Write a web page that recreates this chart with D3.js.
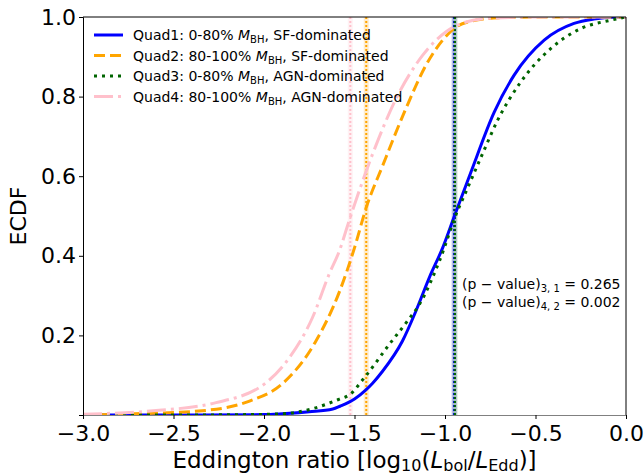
<!DOCTYPE html>
<html>
<head>
<meta charset="utf-8">
<script src="https://cdn.jsdelivr.net/npm/d3@7"></script>
<style>
  body { margin: 0; background: #fff; }
  text { font-family: "DejaVu Sans", sans-serif; }
</style>
</head>
<body>
<script>
// ECDF values

var q1X = [-3.0, -2.5, -2.0, -1.9, -1.75, -1.62, -1.58, -1.50, -1.44, -1.40, -1.345, -1.235, -1.16, -1.086, -1.013, -0.948, -0.857, -0.728, -0.618, -0.452, -0.287, -0.177, -0.04, 0.0];
var q1Y = [0, 0, 0.001, 0.003, 0.008, 0.015, 0.022, 0.04, 0.062, 0.08, 0.11, 0.186, 0.262, 0.346, 0.42, 0.50, 0.61, 0.761, 0.854, 0.942, 0.984, 0.995, 1.0, 1.0];

var q2X = [-3.0, -2.72, -2.36, -2.08, -1.9, -1.713, -1.583, -1.50, -1.436, -1.344, -1.215, -1.105, -1.013, -0.948, -0.85, -0.7, -0.5, 0.0];
var q2Y = [0, 0.003, 0.01, 0.035, 0.078, 0.186, 0.31, 0.42, 0.52, 0.627, 0.771, 0.879, 0.942, 0.972, 0.99, 0.998, 1.0, 1.0];

var q3X = [-3.0, -2.5, -2.1, -1.9, -1.715, -1.583, -1.53, -1.445, -1.307, -1.206, -1.14, -1.03, -0.93, -0.893, -0.792, -0.71, -0.581, -0.415, -0.25, -0.084, 0.0];
var q3Y = [0, 0, 0.001, 0.003, 0.018, 0.04, 0.05, 0.094, 0.178, 0.237, 0.279, 0.388, 0.514, 0.552, 0.657, 0.74, 0.837, 0.921, 0.971, 0.992, 1.0];

var q4X = [-3.0, -2.63, -2.265, -1.989, -1.86, -1.732, -1.64, -1.583, -1.529, -1.399, -1.27, -1.123, -0.994, -0.9, -0.75, -0.5, 0.0];
var q4Y = [0.002, 0.01, 0.031, 0.081, 0.144, 0.245, 0.354, 0.413, 0.489, 0.657, 0.795, 0.904, 0.963, 0.985, 0.997, 1.0, 1.0];

// medians drawn as vertical lines
var medians = [-0.950, -1.435, -0.945, -1.523];

var labels = ["Quad1: 0-80% ", "Quad2: 80-100% ", "Quad3: 0-80% ", "Quad4: 80-100% "];
var labelEnds = [", SF-dominated", ", SF-dominated", ", AGN-dominated", ", AGN-dominated"];
var pvalues = [["3, 1", "0.265"], ["4, 2", "0.002"]];

var xTicks = [-3.0, -2.5, -2.0, -1.5, -1.0, -0.5, 0.0];
var yTicks = [0.2, 0.4, 0.6, 0.8, 1.0];

var colors = ["blue", "orange", "darkgreen", "pink"];
var dashes = [null, "11,5", "3,5", "19,5,3,5"];

var width = 644, height = 475;
var margin = {left: 83, top: 17, right: 18, bottom: 60};

var svg = d3.select("body").append("svg")
    .attr("width", width)
    .attr("height", height);

var x = d3.scaleLinear().domain([-3, 0]).range([margin.left, width - margin.right]);
var y = d3.scaleLinear().domain([0, 1]).range([height - margin.bottom, margin.top]);

var series = [
    {xs: q1X, ys: q1Y},
    {xs: q2X, ys: q2Y},
    {xs: q3X, ys: q3Y},
    {xs: q4X, ys: q4Y}
];

svg.append("clipPath").attr("id", "clip")
  .append("rect")
    .attr("x", margin.left).attr("y", margin.top)
    .attr("width", width - margin.left - margin.right)
    .attr("height", height - margin.top - margin.bottom);

var plot = svg.append("g").attr("clip-path", "url(#clip)");

// vertical median lines: light band + dotted line
var drawOrder = [3, 1, 0, 2];
drawOrder.forEach(function (i) {
    plot.append("line")
        .attr("x1", x(medians[i])).attr("x2", x(medians[i]))
        .attr("y1", y(0)).attr("y2", y(1))
        .style("stroke", colors[i])
        .style("stroke-width", 5)
        .style("opacity", 0.2);
    plot.append("line")
        .attr("x1", x(medians[i])).attr("x2", x(medians[i]))
        .attr("y1", y(0)).attr("y2", y(1))
        .style("stroke", colors[i])
        .style("stroke-width", 2)
        .style("stroke-dasharray", "2,2");
});

var line = d3.line()
    .x(function (d) { return x(d[0]); })
    .y(function (d) { return y(d[1]); })
    .curve(d3.curveMonotoneX);

series.forEach(function (s, i) {
    var pts = s.xs.map(function (v, j) { return [v, s.ys[j]]; });
    plot.append("path")
        .attr("d", line(pts))
        .style("fill", "none")
        .style("stroke", colors[i])
        .style("stroke-width", 3)
        .style("stroke-dasharray", dashes[i]);
});

// axes
var xAxis = svg.append("g")
    .attr("transform", "translate(0," + y(0) + ")")
    .call(d3.axisBottom(x).tickValues(xTicks).tickSizeOuter(0).tickSize(4)
        .tickFormat(function (d) { return d3.format(".1f")(d).replace("-", "\u2212"); }));
xAxis.select(".domain").style("stroke", "#808080");
xAxis.selectAll("text").style("font-size", "22px").attr("dy", "0.85em");

var yAxis = svg.append("g")
    .attr("transform", "translate(" + x(-3) + ",0)")
    .call(d3.axisLeft(y).tickValues(yTicks).tickSizeOuter(0).tickSize(4).tickFormat(d3.format(".1f")));
yAxis.selectAll("text").style("font-size", "22px");

svg.append("line")
    .attr("x1", x(-3)).attr("x2", x(0)).attr("y1", y(1)).attr("y2", y(1))
    .style("stroke", "black");
svg.append("line")
    .attr("x1", x(0)).attr("x2", x(0)).attr("y1", y(1)).attr("y2", y(0))
    .style("stroke", "black");

// axis labels
var xl = svg.append("text")
    .attr("x", (x(-3) + x(0)) / 2)
    .attr("y", 468)
    .attr("text-anchor", "middle")
    .style("font-size", "23px");
xl.append("tspan").text("Eddington ratio [log");
xl.append("tspan").attr("dy", 3).style("font-size", "16px").text("10");
xl.append("tspan").attr("dy", -3).text("(");
xl.append("tspan").style("font-style", "italic").text("L");
xl.append("tspan").attr("dy", 3).style("font-size", "16px").text("bol");
xl.append("tspan").attr("dy", -3).text("/");
xl.append("tspan").style("font-style", "italic").text("L");
xl.append("tspan").attr("dy", 3).style("font-size", "16px").text("Edd");
xl.append("tspan").attr("dy", -3).text(")]");

svg.append("text")
    .attr("transform", "translate(26," + y(0.5) + ") rotate(-90)")
    .attr("text-anchor", "middle")
    .style("font-size", "22px")
    .text("ECDF");

// legend
var legend = svg.append("g");
labels.forEach(function (lab, i) {
    var ly = 35 + i * 20.5;
    legend.append("line")
        .attr("x1", 94).attr("x2", 123).attr("y1", ly).attr("y2", ly)
        .style("stroke", colors[i])
        .style("stroke-width", 3)
        .style("stroke-dasharray", dashes[i]);
    var t = legend.append("text")
        .attr("x", 133).attr("y", ly + 5)
        .style("font-size", "14px");
    t.append("tspan").text(lab);
    t.append("tspan").style("font-style", "italic").text("M");
    t.append("tspan").attr("dy", 3).style("font-size", "10px").text("BH");
    t.append("tspan").attr("dy", -3).text(labelEnds[i]);
});

// p-value annotation
pvalues.forEach(function (p, i) {
    var t = svg.append("text")
        .attr("x", 462).attr("y", 289 + i * 18)
        .style("font-size", "14px");
    t.append("tspan").text("(p \u2212 value)");
    t.append("tspan").attr("dy", 3).style("font-size", "10px").text(p[0]);
    t.append("tspan").attr("dy", -3).text(" = " + p[1]);
});
</script>
</body>
</html>
